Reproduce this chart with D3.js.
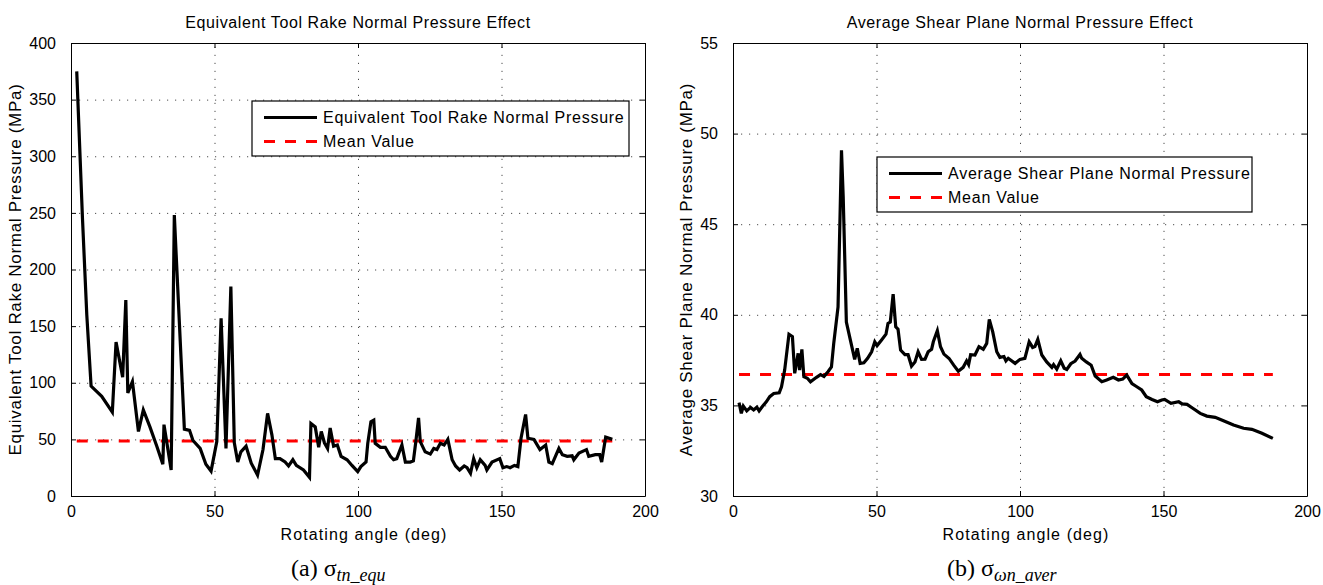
<!DOCTYPE html>
<html>
<head>
<meta charset="utf-8">
<script src="https://cdn.jsdelivr.net/npm/d3@7"></script>
<style>
  body { margin: 0; background: #fff; }
  text { font-family: "Liberation Sans", Arial, Helvetica, sans-serif; fill: #000; }
  .grid line { stroke: #000; stroke-width: 1; stroke-dasharray: 1.2,6.8; opacity: 0.7; }
  .grid path { display: none; }
  .frame path, .frame line { stroke: #000; stroke-width: 1; }
  .caption, .caption tspan { font-family: "Liberation Serif", "Times New Roman", serif; }
</style>
</head>
<body>
<div id="chart"></div>
<script>
// left panel: equivalent tool rake normal pressure (MPa) vs rotating angle (deg)
const degL = [2, 4, 5.5, 7, 10.7, 14.4, 15.7, 18, 19.1, 19.8, 21.4, 23.5, 25.2, 27.5, 29.9, 32, 32.4, 33.4, 34.9, 36,
  39.5, 41.3, 42.5, 45, 47, 48.8, 50.8, 52.3, 54, 55.7, 56.9, 58.1, 59.2, 61, 62.8, 65, 66.9, 68.5, 70, 71.2,
  72.8, 74.6, 75.8, 77.3, 78.5, 81, 83.1, 83.6, 85.1, 86.3, 87.2, 88.3, 89.4, 90.3, 91.5, 92.8, 94.1, 96.2, 97.9, 99.9,
  101, 102.8, 103.4, 104.5, 105.5, 106, 107.8, 109.5, 111.3, 112.4, 113.5, 115.3, 116.5, 118.2, 119.3, 120.2, 121.1, 121.7, 123.4, 125.2,
  126.4, 127.5, 128.7, 130, 131.3, 132.8, 134, 135.4, 137, 138, 139.2, 140.3, 141.4, 142.6, 144.3, 144.9, 146.7, 149.4, 150.5, 151.8,
  153, 154.5, 155.7, 156.8, 158.4, 159.2, 161.3, 163.4, 165.4, 166.5, 167.7, 170, 171.2, 172.9, 174.6, 175.2, 177, 179.6, 180.4, 182.7,
  184.2, 184.9, 186.3, 188.6];
const valL = [375, 245, 160, 97, 88, 74, 136, 105, 173, 91, 101, 57, 76, 61, 44, 28, 63, 47, 23, 248,
  59, 58, 49, 42, 28, 22, 48, 157, 42, 185, 47, 30, 39, 44, 29, 18.5, 41, 73, 54, 33,
  33, 30, 26.5, 32, 27, 23, 16.5, 64, 61, 43, 57, 47, 42, 60, 44, 45, 35, 32, 27, 21.5,
  26, 30, 46.5, 65.6, 67, 46.5, 43, 43, 35, 32, 33, 45, 30, 30, 31, 49, 69, 48, 39, 37,
  42, 41, 46.5, 45, 50, 32, 26.5, 23, 26.5, 25, 20, 33, 25, 32, 27, 23, 30, 33, 25, 26,
  25, 27, 26, 51, 72, 51, 50, 41, 45, 30, 28.6, 42, 36.5, 35, 35.5, 32, 38, 41, 35, 36.5,
  36.5, 30, 52, 50];
const meanL = 48.5;

// right panel: average shear plane normal pressure (MPa)
const degR = [2.1, 2.9, 3.6, 4.8, 6.1, 7.2, 8.3, 9.1, 10.3, 11.6, 12.8, 14.2, 16.1, 16.9, 18, 19.5, 20.7, 21.5, 22.7, 23.2,
  24, 24.7, 25.9, 27, 29.1, 30.5, 31.7, 33.1, 34.3, 35.1, 36.6, 37.8, 38.4, 39.5, 40.9, 42.4, 43.3, 44.3, 45.6, 46.9,
  48.3, 49.4, 50.2, 51.7, 53.3, 54, 54.8, 55.8, 56.7, 57.5, 58.4, 59.9, 61, 62.2, 63.4, 64.5, 65.7, 66.9, 68, 69.2,
  69.8, 71.2, 72.3, 73.5, 75.3, 76.9, 78.5, 80.2, 81.4, 82.1, 82.8, 84.3, 85.7, 87.2, 88.4, 89.3, 90.5, 91.9, 93, 94.4,
  95.1, 95.9, 98.3, 100, 101.7, 103.2, 104.4, 105.2, 106.2, 107.6, 109.3, 111.1, 111.7, 112.8, 114.2, 115.4, 116.3, 117.7, 119.2, 120.9,
  121.5, 123.1, 124.8, 126.2, 128.5, 130.2, 132.5, 134.3, 135.8, 137.2, 139, 140.7, 142.4, 144, 146, 147.9, 149.4, 150.4, 152.6, 155.3,
  156.5, 158.2, 160.2, 162.8, 165.1, 168, 170.9, 174.4, 177.9, 180.8, 184.3, 188.1];
const valR = [35.15, 34.56, 34.96, 34.7, 34.89, 34.75, 34.9, 34.7, 34.95, 35.2, 35.48, 35.66, 35.7, 36.03, 36.95, 38.93, 38.8, 36.77, 37.87, 36.95,
  38.09, 36.58, 36.5, 36.3, 36.55, 36.7, 36.6, 36.86, 37.13, 38.42, 40.44, 49.08, 46.5, 39.6, 38.6, 37.54, 38.15, 37.32, 37.35, 37.6,
  37.96, 38.51, 38.3, 38.6, 38.93, 39.52, 39.6, 41.14, 39.34, 39.2, 38.05, 37.8, 37.8, 37.17, 37.4, 37.96, 37.54, 37.55, 37.96, 38.1,
  38.51, 39.12, 38.24, 37.83, 37.59, 37.22, 36.89, 37.1, 37.46, 37.25, 37.8, 37.78, 38.24, 38.1, 38.42, 39.74, 39.06, 37.96, 37.65, 37.7,
  37.46, 37.6, 37.32, 37.54, 37.6, 38.51, 38.2, 38.25, 38.64, 37.78, 37.4, 37.1, 37.25, 37.0, 37.46, 37.05, 36.98, 37.3, 37.45, 37.81,
  37.6, 37.4, 37.22, 36.62, 36.31, 36.4, 36.55, 36.4, 36.45, 36.67, 36.2, 36.03, 35.85, 35.48, 35.33, 35.2, 35.3, 35.33, 35.11, 35.2,
  35.08, 35.06, 34.84, 34.56, 34.41, 34.34, 34.15, 33.92, 33.74, 33.68, 33.46, 33.18];
const meanR = 36.7;

const xTicks = [0, 50, 100, 150, 200];
const yTicksL = [0, 50, 100, 150, 200, 250, 300, 350, 400];
const yTicksR = [30, 35, 40, 45, 50, 55];

const W = 1323, H = 585;
const plotTop = 43, plotH = 453, plotW = 574;

const svg = d3.select("#chart").append("svg")
  .attr("width", W)
  .attr("height", H);

function drawPanel(p) {
  const g = svg.append("g").attr("transform", "translate(" + p.left + "," + plotTop + ")");

  const x = d3.scaleLinear().domain([0, 200]).range([0, plotW]);
  const y = d3.scaleLinear().domain(p.yDomain).range([plotH, 0]);

  // dotted grid
  g.append("g").attr("class", "grid")
    .attr("transform", "translate(0," + plotH + ")")
    .call(d3.axisBottom(x).tickValues(xTicks.slice(1, -1)).tickSize(-plotH).tickFormat(""));
  g.append("g").attr("class", "grid")
    .call(d3.axisLeft(y).tickValues(p.yTicks.slice(1, -1)).tickSize(-plotW).tickFormat(""));

  // box + inward ticks on all sides
  const xa = g.append("g").attr("class", "frame")
    .attr("transform", "translate(0," + plotH + ")")
    .call(d3.axisBottom(x).tickValues(xTicks).tickSizeInner(-5).tickSizeOuter(0).tickPadding(10));
  xa.selectAll("text").style("font-size", "16px");
  g.append("g").attr("class", "frame")
    .call(d3.axisTop(x).tickValues(xTicks).tickSizeInner(-5).tickSizeOuter(0).tickFormat(""));
  const ya = g.append("g").attr("class", "frame")
    .call(d3.axisLeft(y).tickValues(p.yTicks).tickSizeInner(-5).tickSizeOuter(0).tickPadding(15));
  ya.selectAll("text").style("font-size", "16px");
  g.append("g").attr("class", "frame")
    .attr("transform", "translate(" + plotW + ",0)")
    .call(d3.axisRight(y).tickValues(p.yTicks).tickSizeInner(-5).tickSizeOuter(0).tickFormat(""));

  // mean value
  g.append("line")
    .attr("x1", x(d3.min(p.deg)))
    .attr("x2", x(d3.max(p.deg)))
    .attr("y1", y(p.mean))
    .attr("y2", y(p.mean))
    .attr("stroke", "#ff0000")
    .attr("stroke-width", 3)
    .attr("stroke-dasharray", "11,10");

  const line = d3.line()
    .x(function(d, i) { return x(p.deg[i]); })
    .y(function(d) { return y(d); });

  g.append("path")
    .datum(p.val)
    .attr("fill", "none")
    .attr("stroke", "#000")
    .attr("stroke-width", 3.2)
    .attr("d", line);

  // title & labels
  g.append("text")
    .attr("x", plotW / 2)
    .attr("y", -15)
    .attr("text-anchor", "middle")
    .style("font-size", "16px")
    .style("letter-spacing", "0.6px")
    .text(p.title);

  g.append("text")
    .attr("x", plotW / 2 + 6)
    .attr("y", plotH + 44)
    .attr("text-anchor", "middle")
    .style("font-size", "16px")
    .style("letter-spacing", "1.1px")
    .text("Rotating angle (deg)");

  g.append("text")
    .attr("transform", "translate(" + p.yLabelX + "," + (plotH / 2) + ") rotate(-90)")
    .attr("text-anchor", "middle")
    .style("font-size", "17px")
    .style("letter-spacing", "0.7px")
    .text(p.yLabel);

  // legend
  const lg = g.append("g").attr("transform", "translate(" + p.legX + "," + p.legY + ")");
  lg.append("rect")
    .attr("width", p.legW)
    .attr("height", 55)
    .attr("fill", "#fff")
    .attr("stroke", "#000")
    .attr("stroke-width", 1.2);
  lg.append("line")
    .attr("x1", 12).attr("x2", 65).attr("y1", 16.5).attr("y2", 16.5)
    .attr("stroke", "#000").attr("stroke-width", 3);
  lg.append("line")
    .attr("x1", 12).attr("x2", 65).attr("y1", 40.5).attr("y2", 40.5)
    .attr("stroke", "#ff0000").attr("stroke-width", 3).attr("stroke-dasharray", "11,10");
  lg.append("text")
    .attr("x", 71).attr("y", 22)
    .style("font-size", "16px")
    .style("letter-spacing", "0.75px")
    .text(p.legLabel);
  lg.append("text")
    .attr("x", 71).attr("y", 46)
    .style("font-size", "16px")
    .style("letter-spacing", "0.75px")
    .text("Mean Value");

  // caption
  const cap = svg.append("text")
    .attr("class", "caption")
    .attr("x", p.capX)
    .attr("y", 576)
    .style("font-size", "24px");
  cap.append("tspan").text(p.capTag + "  ");
  cap.append("tspan").text("σ");
  cap.append("tspan")
    .attr("dy", 5)
    .style("font-size", "18px")
    .style("font-style", "italic")
    .text(p.capSub);
}

drawPanel({
  left: 71,
  yDomain: [0, 400],
  yTicks: yTicksL,
  deg: degL,
  val: valL,
  mean: meanL,
  title: "Equivalent Tool Rake Normal Pressure Effect",
  yLabel: "Equivalent Tool Rake Normal Pressure (MPa)",
  yLabelX: -50,
  legX: 181, legY: 58, legW: 377,
  legLabel: "Equivalent Tool Rake Normal Pressure",
  capX: 291, capTag: "(a)", capSub: "tn_equ"
});

drawPanel({
  left: 733,
  yDomain: [30, 55],
  yTicks: yTicksR,
  deg: degR,
  val: valR,
  mean: meanR,
  title: "Average Shear Plane Normal Pressure Effect",
  yLabel: "Average Shear Plane Normal Pressure (MPa)",
  yLabelX: -41,
  legX: 144, legY: 114, legW: 375,
  legLabel: "Average Shear Plane Normal Pressure",
  capX: 947, capTag: "(b)", capSub: "ωn_aver"
});
</script>
</body>
</html>
